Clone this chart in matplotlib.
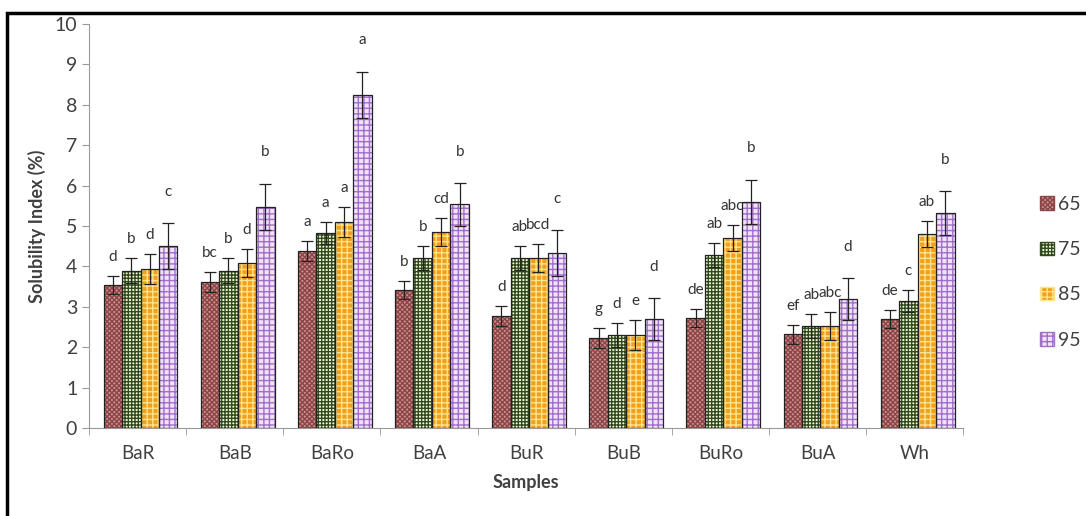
import numpy as np
import matplotlib
matplotlib.use("Agg")
import matplotlib.pyplot as plt
from matplotlib.patches import Patch, Rectangle

plt.rcParams['font.family'] = ['Lato', 'DejaVu Sans']
plt.rcParams['hatch.linewidth'] = 1.0

# data
samples = ['BaR', 'BaB', 'BaRo', 'BaA', 'BuR', 'BuB', 'BuRo', 'BuA', 'Wh']
temps = ['65', '75', '85', '95']

v65 = [3.54, 3.62, 4.38, 3.42, 2.77, 2.23, 2.72, 2.32, 2.70]
v75 = [3.89, 3.89, 4.83, 4.20, 4.20, 2.30, 4.28, 2.52, 3.14]
v85 = [3.93, 4.08, 5.10, 4.85, 4.20, 2.30, 4.70, 2.53, 4.80]
v95 = [4.50, 5.48, 8.25, 5.54, 4.33, 2.69, 5.60, 3.19, 5.32]

e65 = [0.22, 0.25, 0.25, 0.22, 0.25, 0.25, 0.23, 0.23, 0.22]
e75 = [0.31, 0.31, 0.27, 0.30, 0.30, 0.30, 0.30, 0.30, 0.28]
e85 = [0.37, 0.35, 0.37, 0.35, 0.35, 0.38, 0.32, 0.34, 0.32]
e95 = [0.57, 0.57, 0.57, 0.53, 0.57, 0.52, 0.55, 0.52, 0.55]

l65 = ['d', 'bc', 'a', 'b', 'd', 'g', 'de', 'ef', 'de']
l75 = ['b', 'b', 'a', 'b', 'ab', 'd', 'ab', 'ab', 'c']
l85 = ['d', 'd', 'a', 'cd', 'bcd', 'e', 'abc', 'abc', 'ab']
l95 = ['c', 'b', 'a', 'b', 'c', 'd', 'b', 'd', 'b']

vals = [v65, v75, v85, v95]
errs = [e65, e75, e85, e95]
lets = [l65, l75, l85, l95]

# face colour, hatch, hatch colour
styles = [('#cf8e8e', 'xxxxxxx', '#8a4646'),
          ('#f6f6dc', '+++++', '#2f4a1c'),
          ('#f0a01c', '+++', '#ffe38a'),
          ('#f1e2f8', '+++', '#a070c8')]

fig = plt.figure(figsize=(10.86, 5.16), dpi=100)
ax = fig.add_axes([0.082, 0.1705, 0.805, 0.783])

x = np.arange(len(samples))
w = 0.19
for i in range(4):
    pos = x + (i - 1.5) * w + 0.03
    fc, h, hc = styles[i]
    ax.bar(pos, vals[i], w, color=fc, edgecolor='none', zorder=2)
    ax.bar(pos, vals[i], w, color='none', edgecolor=hc, hatch=h, linewidth=0, zorder=3)
    ax.bar(pos, vals[i], w, color='none', edgecolor='#222222', linewidth=0.9, zorder=4)
    ax.errorbar(pos, vals[i], yerr=errs[i], fmt='none', ecolor='#222222',
                elinewidth=0.9, capsize=4, capthick=0.9, zorder=5)
    off = 0.6 if i == 3 else 0.3
    for j in range(len(samples)):
        ax.text(pos[j], vals[i][j] + errs[i][j] + off, lets[i][j], ha='center', va='bottom',
                fontsize=11, color='#333333')

ax.set_xlim(-0.5, len(samples) - 0.5)
ax.set_ylim(0, 10)
ax.set_yticks(range(11))
ax.set_xticks(x)
ax.set_xticklabels(samples)
ax.set_xticks(np.arange(len(samples) + 1) - 0.5, minor=True)
ax.tick_params(axis='x', which='major', length=0, pad=12, labelsize=13.5, labelcolor='#404040')
ax.tick_params(axis='x', which='minor', length=5, color='#999999', direction='out')
ax.tick_params(axis='y', length=5, color='#999999', labelsize=14, labelcolor='#404040')
for s in ['top', 'right']:
    ax.spines[s].set_visible(False)
for s in ['left', 'bottom']:
    ax.spines[s].set_color('#999999')
ax.set_ylabel('Solubility Index (%)', fontsize=13, fontweight='bold', color='#404040', labelpad=6)
ax.set_xlabel('Samples', fontsize=13, fontweight='bold', color='#404040', labelpad=9)

handles = [Patch(facecolor=styles[i][0], edgecolor=styles[i][2], hatch=styles[i][1]) for i in range(4)]
fig.legend(handles, temps, loc='upper left', bbox_to_anchor=(1040 / 1086, 1 - 196 / 516),
           frameon=False, fontsize=14, labelcolor='#404040', handlelength=0.7, handleheight=0.7,
           handletextpad=0.25, labelspacing=1.45, borderaxespad=0, borderpad=0)

# frame around the picture (cut on the right and bottom)
fig.patches.append(Rectangle((7 / 1086, -0.1), 1.2, 1 - 13 / 516 + 0.1, transform=fig.transFigure,
                             fill=False, edgecolor='black', linewidth=2.5))

fig.savefig('out.png', dpi=100)
